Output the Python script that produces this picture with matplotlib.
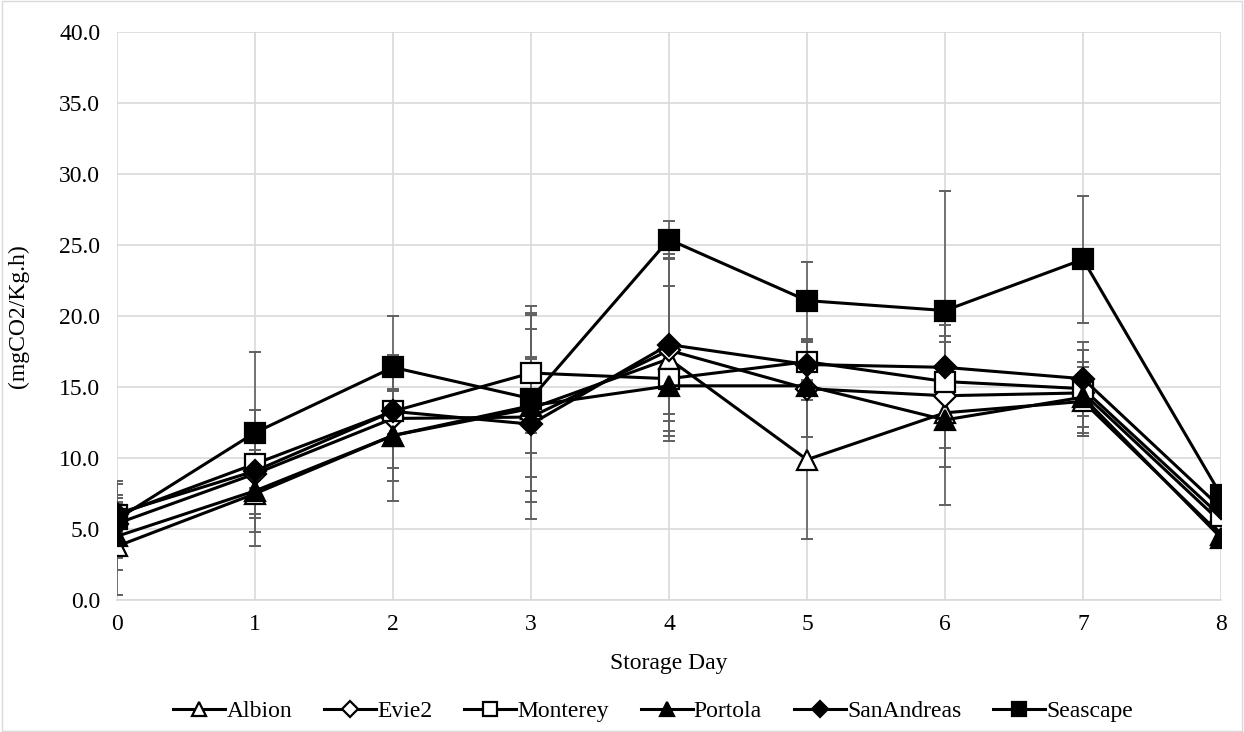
import numpy as np
import matplotlib.pyplot as plt
from matplotlib.patches import Rectangle

plt.rcParams['font.family'] = ['Liberation Serif', 'DejaVu Serif']

# storage days and respiration rate per cultivar (mgCO2/Kg.h)
days = [0, 1, 2, 3, 4, 5, 6, 7, 8]
albion = [3.8, 7.5, 11.6, 13.5, 17.0, 9.9, 13.2, 14.0, 4.6]
evie2 = [5.4, 8.9, 12.8, 12.9, 17.6, 14.9, 14.4, 14.6, 5.5]
monterey = [6.0, 9.6, 13.3, 16.0, 15.6, 16.8, 15.4, 14.9, 5.9]
portola = [4.5, 7.7, 11.6, 13.7, 15.1, 15.1, 12.7, 14.3, 4.4]
sanandreas = [6.1, 9.1, 13.3, 12.4, 18.0, 16.6, 16.4, 15.6, 6.5]
seascape = [5.7, 11.8, 16.4, 14.2, 25.4, 21.1, 20.4, 24.0, 7.4]

# standard deviations
albion_sd = [3.4, 3.7, 4.6, 6.6, 5.1, 5.6, 6.5, 2.4, 0.5]
evie2_sd = [1.4, 1.0, 1.9, 4.2, 6.4, 3.4, 5.0, 3.0, 0.5]
monterey_sd = [2.2, 3.8, 4.0, 4.2, 2.5, 1.4, 2.8, 2.7, 0.5]
portola_sd = [2.4, 2.9, 3.2, 3.3, 2.5, 1.0, 2.0, 2.5, 0.5]
sanandreas_sd = [1.3, 1.2, 1.6, 6.7, 6.4, 1.6, 2.2, 2.6, 0.5]
seascape_sd = [2.7, 5.7, 3.6, 6.5, 1.3, 2.7, 8.4, 4.5, 0.6]

series = [
    ('Albion', albion, albion_sd, '^', 'white', 15),
    ('Evie2', evie2, evie2_sd, 'D', 'white', 11),
    ('Monterey', monterey, monterey_sd, 's', 'white', 14),
    ('Portola', portola, portola_sd, '^', 'black', 15),
    ('SanAndreas', sanandreas, sanandreas_sd, 'D', 'black', 11),
    ('Seascape', seascape, seascape_sd, 's', 'black', 14),
]

fig = plt.figure(figsize=(12.44, 7.32), dpi=100)
ax = fig.add_axes([0.094, 0.18, 0.8875, 0.776])

# error bars behind everything
for name, vals, sd, mk, fc, ms in series:
    ax.errorbar(days, vals, yerr=sd, fmt='none', ecolor='#606060',
                elinewidth=1.2, capsize=4.5, capthick=1.4, zorder=2)

for name, vals, sd, mk, fc, ms in series:
    ax.plot(days, vals, color='black', linewidth=2.2, marker=mk, markersize=ms,
            markerfacecolor=fc, markeredgecolor='black', markeredgewidth=1.6,
            label=name, zorder=3)

ax.set_xlim(0, 8)
ax.set_ylim(0, 40)
ax.set_xticks(days)
ax.set_yticks(np.arange(0, 40.1, 5))
ax.set_yticklabels(['%.1f' % v for v in np.arange(0, 40.1, 5)])
ax.grid(True, color='#d9d9d9', linewidth=1.2)
ax.set_axisbelow(True)
for s in ['top', 'right', 'left']:
    ax.spines[s].set_visible(False)
ax.spines['bottom'].set_color('#d9d9d9')
ax.spines['bottom'].set_linewidth(1.2)
ax.tick_params(length=0, labelsize=17)
ax.tick_params(axis='y', pad=12)
ax.tick_params(axis='x', pad=10)

ax.set_xlabel('Storage Day', fontsize=17)
ax.xaxis.label.set_va('center')
ax.xaxis.set_label_coords(0.5, -0.111)
ax.set_ylabel('(mgCO2/Kg.h)', fontsize=17)
ax.yaxis.label.set_va('center')
ax.yaxis.set_label_coords(-0.089, 0.5)

ax.legend(loc='center', bbox_to_anchor=(0.525, 0.028), bbox_transform=fig.transFigure,
          ncol=6, frameon=False, fontsize=17, handlelength=2.2, columnspacing=1.35,
          handletextpad=0.05, markerscale=0.7)

fig.patches.append(Rectangle((0.002, 0.002), 0.996, 0.996, transform=fig.transFigure,
                             fill=False, edgecolor='#d9d9d9', linewidth=1))

fig.savefig('out.png', dpi=100)
